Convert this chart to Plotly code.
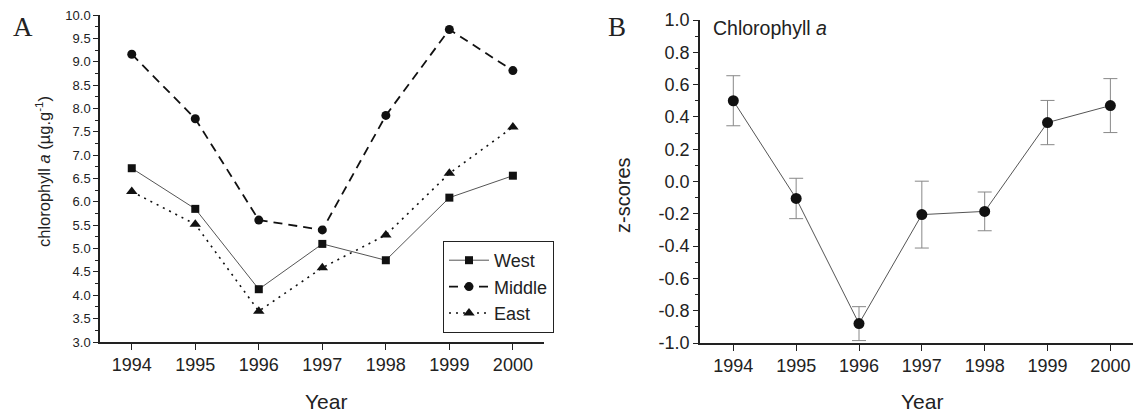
import plotly.graph_objects as go

years = [1994, 1995, 1996, 1997, 1998, 1999, 2000]
west = [6.72, 5.85, 4.13, 5.10, 4.75, 6.09, 6.56]
middle = [9.16, 7.78, 5.61, 5.40, 7.85, 9.69, 8.81]
east = [6.22, 5.52, 3.66, 4.59, 5.29, 6.61, 7.60]

zscores = [0.50, -0.105, -0.88, -0.205, -0.185, 0.365, 0.47]
zerr = [0.155, 0.125, 0.105, 0.207, 0.12, 0.137, 0.167]

z_tickvals = [-1.0, -0.8, -0.6, -0.4, -0.2, 0.0, 0.2, 0.4, 0.6, 0.8, 1.0]
z_ticktext = ["-1.0", "-0.8", "-0.6", "-0.4", "-0.2", "0.0", "0.2", "0.4", "0.6", "0.8", "1.0"]

W, H = 1134, 414
FONT = "Arial, Liberation Sans, Helvetica, sans-serif"
TXT = "#222222"

def px(x):
    return x / W

def py(y):
    return 1 - y / H

fig = go.Figure()

fig.add_trace(go.Scatter(x=years, y=west, name="West", mode="lines+markers",
                         line=dict(color="#555555", width=1),
                         marker=dict(symbol="square", size=8, color="#111111"),
                         xaxis="x", yaxis="y"))
fig.add_trace(go.Scatter(x=years, y=middle, name="Middle", mode="lines+markers",
                         line=dict(color="#111111", width=1.8, dash="9px,6px"),
                         marker=dict(symbol="circle", size=9, color="#111111"),
                         xaxis="x", yaxis="y"))
fig.add_trace(go.Scatter(x=years, y=east, name="East", mode="lines+markers",
                         line=dict(color="#111111", width=1.6, dash="2px,5px"),
                         marker=dict(symbol="triangle-up", size=10, color="#111111"),
                         xaxis="x", yaxis="y"))

fig.add_trace(go.Scatter(x=years, y=zscores, mode="lines+markers", showlegend=False,
                         line=dict(color="#555555", width=1),
                         marker=dict(symbol="circle", size=11, color="#111111"),
                         error_y=dict(type="data", array=zerr, visible=True,
                                      color="#888888", thickness=1, width=7),
                         xaxis="x2", yaxis="y2"))

axis_common = dict(showgrid=False, zeroline=False, showline=True, linecolor="#222222",
                   linewidth=1.5, ticks="outside", tickcolor="#222222", tickwidth=1.2,
                   mirror=False, automargin=False)

fig.update_layout(
    template="none",
    width=W, height=H,
    autosize=False,
    margin=dict(l=0, r=0, t=0, b=0, pad=0),
    paper_bgcolor="white", plot_bgcolor="white",
    font=dict(family=FONT, color=TXT),
    xaxis=dict(domain=[px(100), px(544)], range=[1993.5, 2000.49], anchor="y",
               tickmode="array", tickvals=years, ticklen=6,
               tickfont=dict(size=18, color=TXT), **axis_common),
    yaxis=dict(domain=[py(342), py(15)], range=[3.0, 10.0], anchor="x",
               tickmode="linear", tick0=3.0, dtick=0.5, tickformat=".1f", ticklen=5,
               tickfont=dict(size=13, color=TXT),
               minor=dict(ticks="outside", dtick=0.25, ticklen=3, tickcolor="#222222"),
               **axis_common),
    xaxis2=dict(domain=[px(700), px(1133)], range=[1993.47, 2000.36], anchor="y2",
                tickmode="array", tickvals=years, ticklen=6,
                tickfont=dict(size=18, color=TXT), **axis_common),
    yaxis2=dict(domain=[py(343), py(20)], range=[-1.0, 1.0], anchor="x2",
                tickmode="array", tickvals=z_tickvals, ticktext=z_ticktext, ticklen=5,
                tickfont=dict(size=18, color=TXT),
                minor=dict(ticks="outside", dtick=0.1, tick0=0, ticklen=3, tickcolor="#222222"),
                **axis_common),
    legend=dict(x=px(554), y=py(333), xanchor="right", yanchor="bottom",
                bordercolor="#222222", borderwidth=1, bgcolor="white",
                font=dict(size=18, color=TXT), tracegroupgap=0, itemwidth=40),
    showlegend=True,
)

annotations = [
    dict(text="A", x=px(23), y=py(27), font=dict(family="Liberation Serif, Times New Roman, serif", size=27, color=TXT)),
    dict(text="B", x=px(617), y=py(27), font=dict(family="Liberation Serif, Times New Roman, serif", size=27, color=TXT)),
    dict(text="Chlorophyll <i>a</i>", x=px(711), y=py(28), xanchor="left",
         font=dict(size=19.5, color=TXT)),
    dict(text="Year", x=px(326), y=py(401), font=dict(size=21, color=TXT)),
    dict(text="Year", x=px(922), y=py(401), font=dict(size=21, color=TXT)),
    dict(text="chlorophyll <i>a</i> (µg.g<sup>-1</sup>)", x=px(43), y=py(172), textangle=-90,
         font=dict(size=16.5, color=TXT)),
    dict(text="z-scores", x=px(623), y=py(195), textangle=-90, font=dict(size=20, color=TXT)),
]
for a in annotations:
    a.update(xref="paper", yref="paper", showarrow=False)
    a.setdefault("xanchor", "center")
    a.setdefault("yanchor", "middle")
fig.update_layout(annotations=annotations)

fig.write_html("out.html")
